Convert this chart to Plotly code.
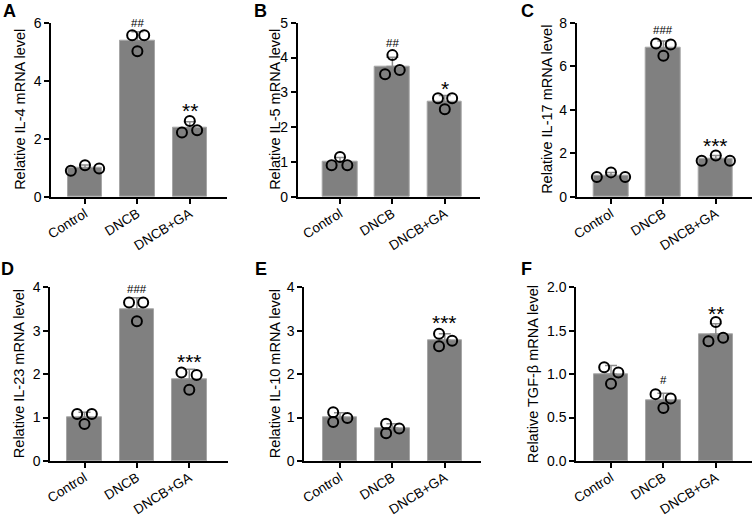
import plotly.graph_objects as go

W, H = 753, 517

categories = ["Control", "DNCB", "DNCB+GA"]

# Panel A: IL-4
a_means = [1.00, 5.38, 2.38]
a_sd = [0.10, 0.31, 0.21]
a_points = [[0.90, 1.09, 0.98], [5.57, 5.57, 5.02], [2.22, 2.62, 2.30]]
a_marks = [(1, "##", 6.0), (2, "**", 2.98)]

# Panel B: IL-5
b_means = [1.00, 3.74, 2.73]
b_sd = [0.13, 0.27, 0.18]
b_points = [[0.91, 1.15, 0.91], [3.52, 4.07, 3.64], [2.83, 2.52, 2.83]]
b_marks = [(1, "##", 4.43), (2, "*", 3.10)]

# Panel C: IL-17
c_means = [1.00, 6.83, 1.75]
c_sd = [0.13, 0.33, 0.15]
c_points = [[0.92, 1.13, 0.92], [7.05, 6.48, 7.00], [1.66, 1.90, 1.66]]
c_marks = [(1, "###", 7.66), (2, "***", 2.36)]

# Panel D: IL-23
d_means = [1.00, 3.50, 1.88]
d_sd = [0.12, 0.26, 0.23]
d_points = [[1.08, 0.85, 1.08], [3.65, 3.22, 3.65], [2.04, 1.64, 1.98]]
d_marks = [(1, "###", 3.95), (2, "***", 2.30)]

# Panel E: IL-10
e_means = [1.00, 0.76, 2.78]
e_sd = [0.11, 0.10, 0.15]
e_points = [[1.12, 0.90, 0.99], [0.86, 0.64, 0.75], [2.93, 2.64, 2.77]]
e_marks = [(2, "***", 3.19)]

# Panel F: TGF-beta
f_means = [1.00, 0.70, 1.46]
f_sd = [0.10, 0.08, 0.12]
f_points = [[1.08, 1.02, 0.89], [0.77, 0.72, 0.61], [1.38, 1.60, 1.42]]
f_marks = [(1, "#", 0.93), (2, "**", 1.70)]

y_titles = ["Relative IL-4 mRNA level", "Relative IL-5 mRNA level",
            "Relative IL-17 mRNA level", "Relative IL-23 mRNA level",
            "Relative IL-10 mRNA level", "Relative TGF-β mRNA level"]
letters = ["A", "B", "C", "D", "E", "F"]
y_tickvals = [[0, 2, 4, 6], [0, 1, 2, 3, 4, 5], [0, 2, 4, 6, 8],
              [0, 1, 2, 3, 4], [0, 1, 2, 3, 4], [0, 0.5, 1.0, 1.5, 2.0]]

# layout (pixel geometry)
jitter = [
    [[-0.27, 0, 0.27], [-0.10, 0.13, 0], [-0.15, 0, 0.14]],
    [[-0.16, 0, 0.14], [-0.14, 0, 0.14], [-0.13, 0, 0.14]],
    [[-0.27, 0, 0.27], [-0.14, 0, 0.14], [-0.27, 0, 0.27]],
    [[-0.14, 0, 0.14], [-0.15, 0, 0.12], [-0.15, 0, 0.14]],
    [[-0.13, -0.13, 0.14], [-0.12, -0.12, 0.13], [-0.11, -0.11, 0.14]],
    [[-0.13, 0.14, 0], [-0.15, 0.14, 0], [-0.14, 0, 0.14]],
]
panels = [
    (a_means, a_sd, a_points, a_marks),
    (b_means, b_sd, b_points, b_marks),
    (c_means, c_sd, c_points, c_marks),
    (d_means, d_sd, d_points, d_marks),
    (e_means, e_sd, e_points, e_marks),
    (f_means, f_sd, f_points, f_marks),
]
# x pixel extents of the axes, centers of first bar, y pixels (top, zero)
geom = [
    (51, 227, 85, 22.7, 197),
    (297.7, 480, 340, 22.7, 197),
    (576.7, 752, 611, 22.7, 197),
    (50, 228, 84.5, 287.3, 461),
    (304, 480.7, 340, 287.3, 461),
    (576, 752, 611, 287.3, 461),
]
spacing = 52.4
title_x = [20, 275, 547, 19, 275, 533]
letter_pos = [(9, 11), (260, 11), (527, 11), (8, 269), (261, 269), (526, 269)]

FONT = "Liberation Sans, Arial, sans-serif"
BAR = "#808080"

fig = go.Figure()
annotations = []
layout = {}
for i, (means, sd, pts, marks) in enumerate(panels):
    n = i + 1
    xa = "x" if n == 1 else f"x{n}"
    ya = "y" if n == 1 else f"y{n}"
    x0, x1, c0, ytop, yzero = geom[i]
    xr = [-(c0 - x0) / spacing, (x1 - c0) / spacing]
    ymax = y_tickvals[i][-1]
    fig.add_trace(go.Bar(
        x=[0, 1, 2], y=means, width=0.66,
        marker=dict(color=BAR, line=dict(color="#a6a6a6", width=1)),
        error_y=dict(type="data", symmetric=False, array=sd,
                     arrayminus=[0, 0, 0], color="#8c8c8c",
                     thickness=1.5, width=6),
        xaxis=xa, yaxis=ya, showlegend=False, hoverinfo="skip"))
    px, py = [], []
    for k in range(3):
        for j in range(3):
            px.append(k + jitter[i][k][j])
            py.append(pts[k][j])
    fig.add_trace(go.Scatter(
        x=px, y=py, mode="markers", cliponaxis=False,
        marker=dict(symbol="circle", size=10, color="rgba(0,0,0,0)",
                    line=dict(color="black", width=2)),
        xaxis=xa, yaxis=ya, showlegend=False, hoverinfo="skip"))
    axkey = "xaxis" if n == 1 else f"xaxis{n}"
    aykey = "yaxis" if n == 1 else f"yaxis{n}"
    layout[axkey] = dict(
        domain=[x0 / W, x1 / W], range=xr, anchor=ya,
        tickvals=[0, 1, 2], ticktext=categories, tickangle=-32,
        showline=True, linecolor="black", linewidth=1.5,
        ticks="outside", ticklen=5, tickwidth=1.5, tickcolor="black",
        showgrid=False, zeroline=False, automargin=False,
        ticklabelstandoff=-3,
        tickfont=dict(family=FONT, size=13.5, color="black"), fixedrange=True)
    fmt = ".1f" if i == 5 else "d"
    layout[aykey] = dict(
        domain=[1 - yzero / H, 1 - ytop / H], range=[0, ymax], anchor=xa,
        tickvals=y_tickvals[i],
        ticktext=[format(v, fmt) if fmt != "d" else str(int(v)) for v in y_tickvals[i]],
        showline=True, linecolor="black", linewidth=1.5,
        ticks="outside", ticklen=5, tickwidth=1.5, tickcolor="black",
        showgrid=False, zeroline=False, automargin=False,
        tickfont=dict(family=FONT, size=14, color="black"), fixedrange=True)
    annotations.append(dict(
        text=y_titles[i], xref="paper", yref="paper",
        x=title_x[i] / W, y=1 - (ytop + yzero) / 2 / H,
        textangle=-90, showarrow=False, xanchor="center", yanchor="middle",
        font=dict(family=FONT, size=14.5, color="black")))
    lx, ly = letter_pos[i]
    annotations.append(dict(
        text="<b>" + letters[i] + "</b>", xref="paper", yref="paper",
        x=lx / W, y=1 - ly / H, showarrow=False,
        xanchor="center", yanchor="middle",
        font=dict(family=FONT, size=18, color="black")))
    for (k, txt, yv) in marks:
        is_star = "*" in txt
        annotations.append(dict(
            text=txt, xref=xa, yref=ya, x=k, y=yv, showarrow=False,
            xanchor="center", yanchor="middle",
            font=dict(family=FONT, size=21 if is_star else 11.5, color="black")))

fig.update_layout(
    width=W, height=H, margin=dict(l=0, r=0, t=0, b=0),
    paper_bgcolor="white", plot_bgcolor="white",
    annotations=annotations, bargap=0, **layout)

fig.write_html("out.html", config={"displayModeBar": False},
               post_script="document.body.style.margin='0px';"
                           "document.body.style.overflow='hidden';")
